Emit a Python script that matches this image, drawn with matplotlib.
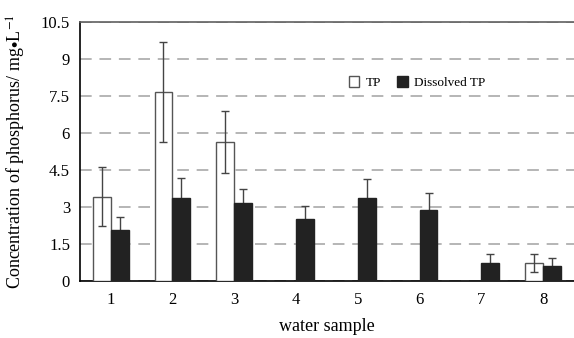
import numpy as np
import matplotlib.pyplot as plt

samples = [1, 2, 3, 4, 5, 6, 7, 8]
tp = [3.42, 7.67, 5.62, 0, 0, 0, 0, 0.72]
tp_err = [1.2, 2.02, 1.25, 0, 0, 0, 0, 0.35]
dtp = [2.05, 3.38, 3.17, 2.5, 3.38, 2.88, 0.72, 0.62]
dtp_err = [0.56, 0.78, 0.57, 0.53, 0.74, 0.68, 0.36, 0.3]

plt.rcParams['font.family'] = 'Liberation Serif'
plt.rcParams['mathtext.fontset'] = 'stix'

fig = plt.figure(figsize=(5.74, 3.38), dpi=100)
ax = fig.add_axes([0.139, 0.169, 0.861, 0.766])

x = np.array(samples)
w = 0.29
tp_show = [v > 0 for v in tp]
xt = x[tp_show] - w / 2
ax.bar(xt, np.array(tp)[tp_show], w, color='white', edgecolor='#555555', linewidth=1, label='TP', zorder=3)
ax.errorbar(xt, np.array(tp)[tp_show], yerr=np.array(tp_err)[tp_show], fmt='none',
            ecolor='#444444', elinewidth=1, capsize=3, capthick=1, zorder=4)
ax.bar(x + w / 2, dtp, w, color='#222222', edgecolor='#222222', linewidth=1, label='Dissolved TP', zorder=3)
ax.errorbar(x + w / 2, dtp, yerr=dtp_err, fmt='none',
            ecolor='#444444', elinewidth=1, capsize=3, capthick=1, zorder=2)

ax.set_xlim(0.5, 8.5)
ax.set_ylim(0, 10.5)
ax.set_yticks(np.arange(0, 10.6, 1.5))
ax.set_yticklabels(['0', '1.5', '3', '4.5', '6', '7.5', '9', '10.5'])
ax.set_xticks(samples)
ax.tick_params(length=0, labelsize=12)
ax.tick_params(axis='x', pad=8)
ax.tick_params(axis='y', pad=7)
ax.yaxis.grid(True, linestyle=(0, (6, 4)), color='#b5b5b5', linewidth=1.4, zorder=0)
ax.set_axisbelow(True)

ax.spines['right'].set_visible(False)
ax.spines['top'].set_color('#606060')
ax.spines['top'].set_linewidth(1.2)
ax.spines['left'].set_linewidth(1.2)
ax.spines['bottom'].set_linewidth(1.2)

ax.set_ylabel('Concentration of phosphorus/ mg$\\bullet$L$^{-1}$', fontsize=13, labelpad=9)
ax.set_xlabel('water sample', fontsize=13, labelpad=7)

ax.legend(loc='center left', bbox_to_anchor=(0.52, 0.765), ncol=2, frameon=False,
          fontsize=9.5, handlelength=0.8, handleheight=0.8, columnspacing=1.2, handletextpad=0.5)

fig.savefig('out.png', dpi=100)
